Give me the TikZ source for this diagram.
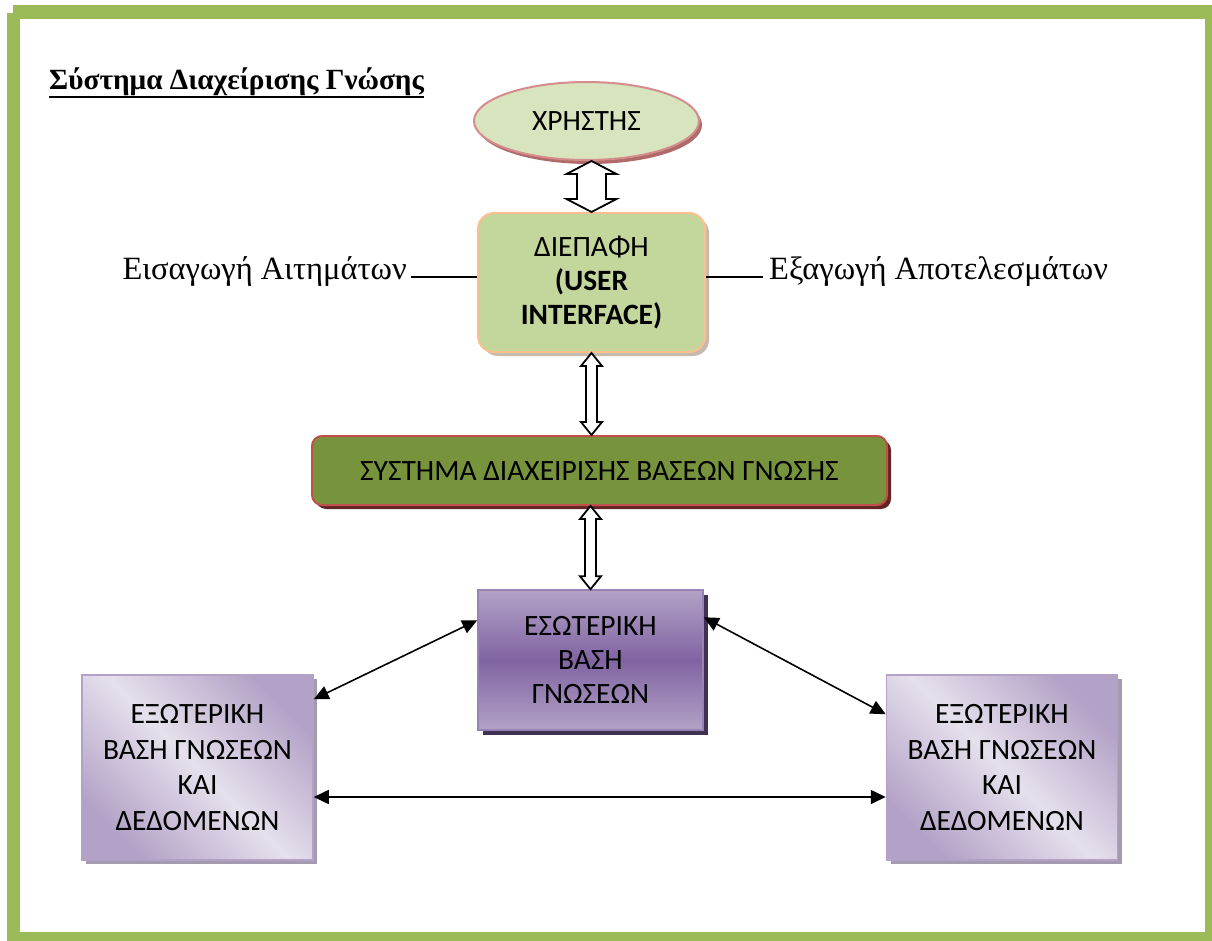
\documentclass[tikz,border=0pt]{standalone}
\usepackage{fontspec}
\setmainfont{Liberation Serif}
\newfontfamily\boxfont{Carlito}
\usetikzlibrary{shapes.geometric,calc,shadows,arrows.meta}

\definecolor{framegreen}{HTML}{9BBB59}
\definecolor{userfill}{HTML}{D7E4BD}
\definecolor{userline}{HTML}{D48C8C}
\definecolor{usershadow}{HTML}{B06A6A}
\definecolor{uifill}{HTML}{C3D69B}
\definecolor{uiline}{HTML}{FAC090}
\definecolor{uishadow}{HTML}{C4BBAE}
\definecolor{kmsfill}{HTML}{77933C}
\definecolor{kmsline}{HTML}{C0504D}
\definecolor{kmsshadow}{HTML}{632523}
\definecolor{purpledark}{HTML}{8064A2}
\definecolor{purplemid}{HTML}{B3A2C7}
\definecolor{purplelight}{HTML}{E6E0EC}
\definecolor{purpleshadow}{HTML}{3F3151}
\definecolor{extshadow}{HTML}{A49BB0}

% hollow double-headed arrow between two tips (top, bottom):
% #3 half shaft width, #4 half head width, #5 head length
\newcommand{\hollowdouble}[5]{%
  \draw[hollowarrow] (#1) -- ($(#1)+(#4,#5)$) -- ($(#1)+(#3,#5)$)
    -- ($(#2)+(#3,-#5)$) -- ($(#2)+(#4,-#5)$) -- (#2)
    -- ($(#2)+(-#4,-#5)$) -- ($(#2)+(-#3,-#5)$)
    -- ($(#1)+(-#3,#5)$) -- ($(#1)+(-#4,#5)$) -- cycle;}

\begin{document}
\begin{tikzpicture}[x=1pt,y=-1pt,
  boxtext/.style={font=\boxfont\fontsize{29.5}{34}\selectfont, align=center, text=black},
  userell/.style={boxtext, ellipse, draw=userline, line width=2pt, fill=userfill,
    minimum width=225pt, minimum height=78pt, inner sep=0pt,
    drop shadow={shadow xshift=3pt, shadow yshift=-4pt, fill=usershadow, opacity=1}},
  uibox/.style={boxtext, rectangle, rounded corners=16pt, draw=uiline, line width=2pt, fill=uifill,
    minimum width=227pt, minimum height=139pt, inner sep=0pt,
    drop shadow={shadow xshift=4pt, shadow yshift=-4pt, fill=uishadow, opacity=1}},
  kmsbox/.style={boxtext, rectangle, rounded corners=10pt, draw=kmsline, line width=2pt, fill=kmsfill,
    minimum width=575pt, minimum height=69pt, inner sep=0pt,
    drop shadow={shadow xshift=4pt, shadow yshift=-4pt, fill=kmsshadow, opacity=1}},
  innerbox/.style={boxtext, rectangle, draw=purpledark!80!white, line width=1.5pt,
    top color=purplemid, bottom color=purplemid, middle color=purpledark,
    minimum width=225pt, minimum height=140pt, inner sep=0pt,
    drop shadow={shadow xshift=5pt, shadow yshift=-5pt, fill=purpleshadow, opacity=1}},
  extbox/.style={boxtext, font=\boxfont\fontsize{29.5}{35.5}\selectfont, rectangle, draw=purplemid, line width=1.5pt,
    top color=purplemid, bottom color=purplemid, middle color=purplelight, shading angle=-45,
    minimum width=231pt, minimum height=185pt, inner sep=0pt,
    drop shadow={shadow xshift=4pt, shadow yshift=-4pt, fill=extshadow, opacity=1}},
  serif/.style={font=\fontsize{32.5}{38}\selectfont},
  heading/.style={font=\bfseries\fontsize{29.3}{34}\selectfont},
  hollowarrow/.style={draw=black, fill=white, line width=1.8pt, line join=miter},
  linkarrow/.style={line width=1.6pt, {Triangle[length=15pt,width=14pt]}-{Triangle[length=15pt,width=14pt]}},
  plainline/.style={line width=1.4pt}
]
\useasboundingbox (0,0) rectangle (1212,941);

% green page frame
\fill[framegreen] (13,5) rectangle (1212,19);
\fill[framegreen] (7,13) rectangle (20,941);
\fill[framegreen] (1205,5) rectangle (1212,941);
\fill[framegreen] (7,932) rectangle (1212,941);

% heading with a heavy underline
\node[heading, anchor=base west, inner sep=0pt] (title) at (49,90)
  {Σύστημα Διαχείρισης Γνώσης};
\draw[line width=2.6pt] ([yshift=-7pt]title.base west) -- ([yshift=-7pt]title.base east);

% blocks
\node[userell] (user) at (586.5,121) {ΧΡΗΣΤΗΣ};
\node[uibox] (ui) at (591.5,282.5) {ΔΙΕΠΑΦΗ\\\textbf{(USER}\\\textbf{INTERFACE)}};
\node[kmsbox] (kms) at (599.5,470.5) {ΣΥΣΤΗΜΑ ΔΙΑΧΕΙΡΙΣΗΣ ΒΑΣΕΩΝ ΓΝΩΣΗΣ};
\node[innerbox] (inner) at (590.5,660) {ΕΣΩΤΕΡΙΚΗ\\ΒΑΣΗ\\ΓΝΩΣΕΩΝ};
\node[extbox] (extL) at (197.5,767.5) {ΕΞΩΤΕΡΙΚΗ\\ΒΑΣΗ ΓΝΩΣΕΩΝ\\ΚΑΙ\\ΔΕΔΟΜΕΝΩΝ};
\node[extbox] (extR) at (1002,767.5) {ΕΞΩΤΕΡΙΚΗ\\ΒΑΣΗ ΓΝΩΣΕΩΝ\\ΚΑΙ\\ΔΕΔΟΜΕΝΩΝ};

% side labels of the interface
\node[serif, anchor=mid east, inner sep=4pt] (inreq) at (411,277) {Εισαγωγή Αιτημάτων};
\node[serif, anchor=mid west, inner sep=6pt] (outres) at (763,277) {Εξαγωγή Αποτελεσμάτων};
\draw[plainline] (inreq.mid east) -- (inreq.mid east -| ui.west);
\draw[plainline] (outres.mid west) -- (outres.mid west -| ui.east);

% hollow two-way arrows along the main column
\coordinate (a1top) at (ui.north |- user.south);
\hollowdouble{a1top}{ui.north}{14.5}{25}{13}
\coordinate (a2bot) at (ui.south |- kms.north);
\hollowdouble{ui.south}{a2bot}{5.5}{10.5}{13}
\coordinate (a3top) at (inner.north |- kms.south);
\hollowdouble{a3top}{inner.north}{5.5}{10.5}{13}

% links between knowledge bases
\draw[linkarrow] ([yshift=-31pt]inner.north west) -- ([yshift=-25pt]extL.north east);
\draw[linkarrow] ([yshift=-28pt]inner.north east) -- ([yshift=-40pt]extR.north west);
\draw[linkarrow] ([yshift=-29.5pt]extL.east) -- ([yshift=-29.5pt]extR.west);
\end{tikzpicture}
\end{document}
